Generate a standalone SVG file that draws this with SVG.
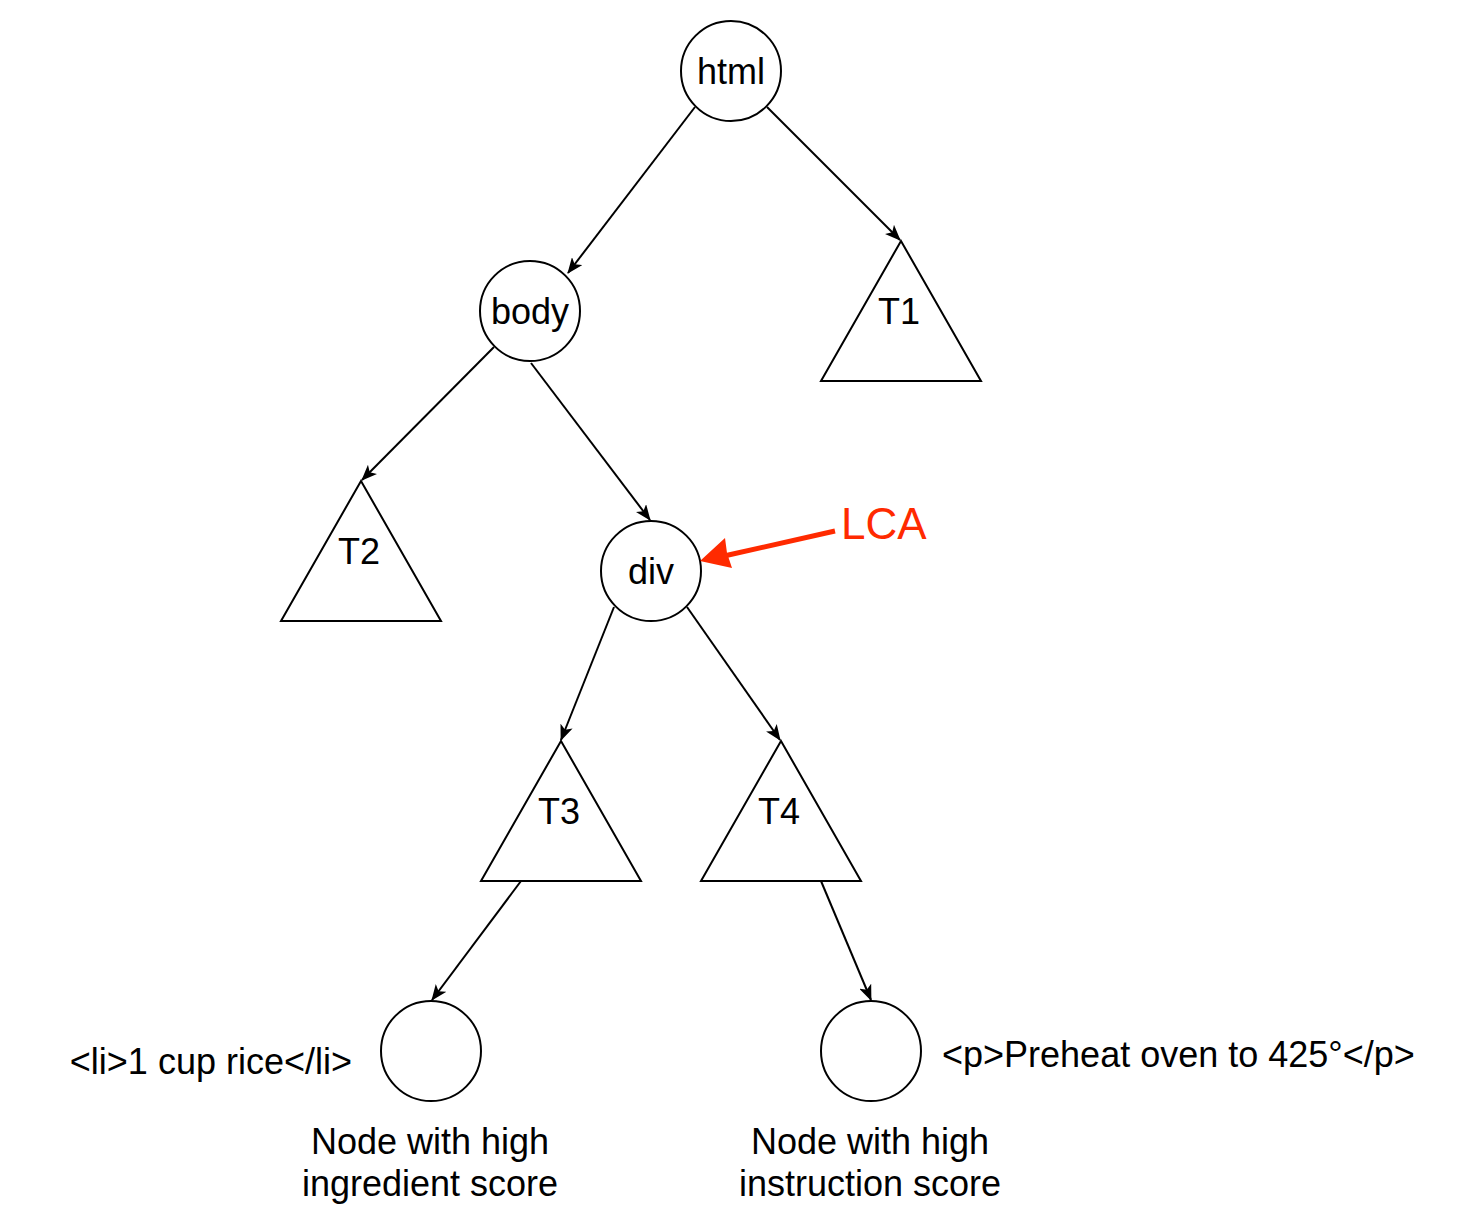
<svg xmlns="http://www.w3.org/2000/svg" width="1482" height="1224" viewBox="0 0 1482 1224">
<style>
.shape{fill:#fff;stroke:#000;stroke-width:2}
.lbl{font-family:"Liberation Sans",Arial,sans-serif;font-size:36px;fill:#000;text-anchor:middle}
.edge{stroke:#000;stroke-width:2;fill:none;marker-end:url(#arr)}
</style>
<defs>
<marker id="arr" viewBox="0 0 16 13" refX="15" refY="6.5" markerWidth="16" markerHeight="13" markerUnits="userSpaceOnUse" orient="auto">
<path d="M0,0 L16,6.5 L0,13 L4,6.5 Z" fill="#000"/>
</marker>
</defs>
<rect width="1482" height="1224" fill="#fff"/>
<g id="connectors">
<line class="edge" x1="695" y1="107" x2="568" y2="273"/>
<line class="edge" x1="767" y1="107" x2="900" y2="240"/>
<line class="edge" x1="494" y1="347" x2="362" y2="480"/>
<line class="edge" x1="531" y1="363" x2="650" y2="520"/>
<line class="edge" x1="614" y1="607" x2="561" y2="740"/>
<line class="edge" x1="687" y1="607" x2="780" y2="740"/>
<line class="edge" x1="521" y1="881" x2="432" y2="1000"/>
<line class="edge" x1="821" y1="881" x2="871" y2="1000"/>
</g>
<g id="html"><circle class="shape" cx="731" cy="71" r="50"/><text class="lbl" x="731" y="84">html</text></g>
<g id="body"><circle class="shape" cx="530" cy="311" r="50"/><text class="lbl" x="530" y="324">body</text></g>
<g id="div"><circle class="shape" cx="651" cy="571" r="50"/><text class="lbl" x="651" y="584">div</text></g>
<g id="T1"><polygon class="shape" points="901,241 981,381 821,381"/><text class="lbl" x="899" y="324">T1</text></g>
<g id="T2"><polygon class="shape" points="361,481 441,621 281,621"/><text class="lbl" x="359" y="564">T2</text></g>
<g id="T3"><polygon class="shape" points="561,741 641,881 481,881"/><text class="lbl" x="559" y="824">T3</text></g>
<g id="T4"><polygon class="shape" points="781,741 861,881 701,881"/><text class="lbl" x="779" y="824">T4</text></g>
<g id="ingredient"><circle class="shape" cx="431" cy="1051" r="50"/>
<text class="lbl" x="352" y="1074" style="text-anchor:end">&lt;li&gt;1 cup rice&lt;/li&gt;</text>
<text class="lbl" x="430" y="1154">Node with high</text>
<text class="lbl" x="430" y="1196">ingredient score</text></g>
<g id="instruction"><circle class="shape" cx="871" cy="1051" r="50"/>
<text class="lbl" x="942" y="1067" style="text-anchor:start">&lt;p&gt;Preheat oven to 425°&lt;/p&gt;</text>
<text class="lbl" x="870" y="1154">Node with high</text>
<text class="lbl" x="870" y="1196">instruction score</text></g>
<g id="lca">
<line x1="835" y1="531" x2="724" y2="556" stroke="#FF2A00" stroke-width="5"/>
<path d="M700,561 L725,538 L727,553 L732,568 Z" fill="#FF2A00"/>
<text x="841" y="539" style="font-family:'Liberation Sans',Arial,sans-serif;font-size:44px;fill:#FF2A00">LCA</text>
</g>
</svg>
